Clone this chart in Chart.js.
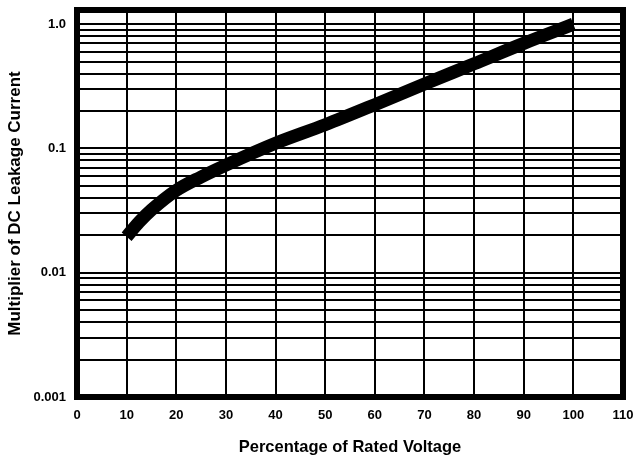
<!DOCTYPE html>
<html>
<head>
<meta charset="utf-8">
<script src="https://cdn.jsdelivr.net/npm/chart.js@4/dist/chart.umd.min.js"></script>
<style>
  html, body { margin: 0; padding: 0; background: #ffffff; }
  #wrap { width: 638px; height: 457px; }
</style>
</head>
<body>
<div id="wrap"><canvas id="chart" width="638" height="457"></canvas></div>
<script>
// Percentage of rated voltage (x) and leakage-current multiplier (y)
const voltagePct = [10, 12.5, 15, 20, 25, 30, 40, 50, 60, 70, 80, 90, 100];
const leakageMultiplier = [0.0195, 0.0255, 0.032, 0.046, 0.059, 0.0735, 0.110, 0.155, 0.225, 0.330, 0.480, 0.700, 1.0];

// Axis tick values and labels
const xTicks = [0, 10, 20, 30, 40, 50, 60, 70, 80, 90, 100, 110];
const yDecades = [0.001, 0.01, 0.1, 1];
const yDecadeLabels = ['0.001', '0.01', '0.1', '1.0'];

// Horizontal grid: every 1..9 step inside each decade, plus the top decade
const yGrid = [];
for (let i = 0; i < yDecades.length - 1; i++) {
  for (let m = 1; m <= 9; m++) yGrid.push(yDecades[i] * m);
}
yGrid.push(yDecades[yDecades.length - 1]);

const FONT = '"Liberation Sans", Arial, Helvetica, sans-serif';

// Heavy frame round the plotting area
const frame = {
  id: 'frame',
  afterDraw(chart) {
    const { ctx, chartArea: a } = chart;
    ctx.save();
    ctx.strokeStyle = '#000';
    ctx.lineWidth = 6;
    ctx.strokeRect(a.left, a.top, a.right - a.left, a.bottom - a.top);
    ctx.restore();
  }
};

new Chart(document.getElementById('chart'), {
  type: 'line',
  data: {
    datasets: [{
      data: voltagePct.map((x, i) => ({ x: x, y: leakageMultiplier[i] })),
      borderColor: '#000',
      borderWidth: 13,
      borderCapStyle: 'butt',
      pointRadius: 0,
      cubicInterpolationMode: 'monotone',
      fill: false
    }]
  },
  options: {
    responsive: false,
    devicePixelRatio: 1,
    animation: false,
    layout: { padding: { top: 10, right: 15, left: 0, bottom: 0 } },
    plugins: { legend: { display: false }, tooltip: { enabled: false } },
    scales: {
      x: {
        type: 'linear',
        min: 0,
        max: 110,
        afterBuildTicks: s => { s.ticks = xTicks.map(v => ({ value: v })); },
        afterFit: s => { s.height = 60; s.paddingLeft = 0; s.paddingRight = 0; },
        ticks: {
          autoSkip: false,
          maxRotation: 0,
          padding: 11,
          color: '#000',
          font: { family: FONT, size: 13, weight: 'bold' },
          callback: v => String(v)
        },
        grid: { color: '#000', lineWidth: 2, drawTicks: false },
        border: { display: false },
        title: {
          display: true,
          text: 'Percentage of Rated Voltage',
          color: '#000',
          font: { family: FONT, size: 16.5, weight: 'bold' },
          padding: { top: 2, bottom: 0 }
        }
      },
      y: {
        type: 'logarithmic',
        min: 0.001,
        max: 1.3,
        afterBuildTicks: s => { s.ticks = yGrid.map(v => ({ value: v })); },
        afterFit: s => { s.width = 77; s.paddingTop = 0; s.paddingBottom = 0; },
        ticks: {
          autoSkip: false,
          padding: 11,
          color: '#000',
          font: { family: FONT, size: 13, weight: 'bold' },
          callback: v => {
            const k = yDecades.findIndex(d => Math.abs(v - d) / d < 1e-6);
            return k >= 0 ? yDecadeLabels[k] : '';
          }
        },
        grid: { color: '#000', lineWidth: 2, drawTicks: false },
        border: { display: false },
        title: {
          display: true,
          text: 'Multiplier of DC Leakage Current',
          color: '#000',
          font: { family: FONT, size: 17, weight: 'bold' },
          padding: { top: 5, bottom: 0 }
        }
      }
    }
  },
  plugins: [frame]
});
</script>
</body>
</html>
